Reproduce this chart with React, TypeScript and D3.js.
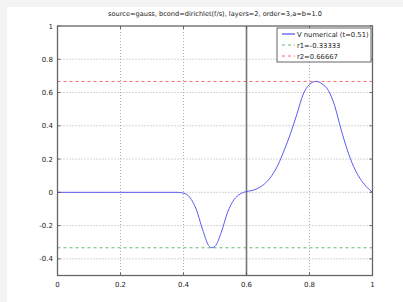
import React from "react";
import * as d3 from "d3";

const titleText = "source=gauss, bcond=dirichlet(f/s), layers=2, order=3,a=b=1.0";
const xTicks = [0, 0.2, 0.4, 0.6, 0.8, 1];
const xTickLabels = ["0", "0.2", "0.4", "0.6", "0.8", "1"];
const yTicks = [-0.4, -0.2, 0, 0.2, 0.4, 0.6, 0.8, 1];
const yTickLabels = ["-0.4", "-0.2", "0", "0.2", "0.4", "0.6", "0.8", "1"];

const vX = [0, 0.2, 0.36, 0.38, 0.40, 0.42, 0.44, 0.46, 0.48, 0.49, 0.50, 0.52, 0.54, 0.56, 0.58, 0.60, 0.62, 0.64, 0.66, 0.68, 0.70, 0.72, 0.74, 0.76, 0.78, 0.80, 0.82, 0.84, 0.86, 0.88, 0.90, 0.92, 0.94, 0.96, 0.98, 1.0];
const vY = [0, 0, 0, 0, -0.005, -0.03, -0.10, -0.22, -0.32, -0.333, -0.325, -0.24, -0.12, -0.045, -0.01, 0.005, 0.012, 0.028, 0.055, 0.10, 0.165, 0.255, 0.355, 0.47, 0.59, 0.648, 0.667, 0.652, 0.612, 0.52, 0.38, 0.255, 0.155, 0.085, 0.035, 0];

const r1 = -0.33333;
const r2 = 0.66667;
const interfaceX = 0.6;
const legendLabels = ["V numerical (t=0.51)", "r1=-0.33333", "r2=0.66667"];

const W = 403, H = 302;
const L = 57.5, R = 372.5, T = 26, B = 275.5;
const FONT = "DejaVu Sans, sans-serif";

export default function App() {
  const x = d3.scaleLinear().domain([0, 1]).range([L, R]);
  const y = d3.scaleLinear().domain([-0.5, 1]).range([B, T]);
  const line = d3
    .line<number>()
    .x((_, i) => x(vX[i]))
    .y((d) => y(d))
    .curve(d3.curveMonotoneX);

  const legendColors = ["#5b5bf5", "#66bb66", "#ff6666"];
  const lgX = 277, lgY = 28, lgW = 94, lgH = 34;

  return (
    <svg width={W} height={H} style={{ position: "absolute", left: 0, top: 0 }}>
      <rect x={0} y={0} width={W} height={H} fill="#f3f3f3" />
      <rect x={7} y={7} width={W - 7} height={H - 7} fill="#ffffff" />
      <text x={(L + R) / 2} y={16} textAnchor="middle" fontFamily={FONT} fontSize={6.6} fill="#222">
        {titleText}
      </text>
      {/* grid */}
      {xTicks.filter((t) => t > 0 && t < 1).map((t) => (
        <line key={"gx" + t} x1={x(t)} x2={x(t)} y1={T} y2={B} stroke="#999" strokeWidth={0.8} strokeDasharray="1,2" />
      ))}
      {yTicks.filter((t) => t > -0.5 && t < 1).map((t) => (
        <line key={"gy" + t} x1={L} x2={R} y1={y(t)} y2={y(t)} stroke="#999" strokeWidth={0.8} strokeDasharray="1,2" />
      ))}
      {/* reference lines */}
      <line x1={L} x2={R} y1={y(r1)} y2={y(r1)} stroke={legendColors[1]} strokeWidth={1} strokeDasharray="3,3" />
      <line x1={L} x2={R} y1={y(r2)} y2={y(r2)} stroke={legendColors[2]} strokeWidth={1} strokeDasharray="3,3" />
      <line x1={x(interfaceX)} x2={x(interfaceX)} y1={T} y2={B} stroke="#777" strokeWidth={1.6} />
      <path d={line(vY) || ""} fill="none" stroke={legendColors[0]} strokeWidth={1} />
      {/* ticks */}
      {xTicks.map((t) => (
        <g key={"tx" + t}>
          <line x1={x(t)} x2={x(t)} y1={B} y2={B - 3} stroke="#444" strokeWidth={0.8} />
          <line x1={x(t)} x2={x(t)} y1={T} y2={T + 3} stroke="#444" strokeWidth={0.8} />
        </g>
      ))}
      {yTicks.map((t) => (
        <g key={"ty" + t}>
          <line x1={L} x2={L + 3} y1={y(t)} y2={y(t)} stroke="#444" strokeWidth={0.8} />
          <line x1={R} x2={R - 3} y1={y(t)} y2={y(t)} stroke="#444" strokeWidth={0.8} />
        </g>
      ))}
      <rect x={L} y={T} width={R - L} height={B - T} fill="none" stroke="#666" strokeWidth={1.3} />
      {xTicks.map((t, i) => (
        <text key={"lx" + t} x={x(t)} y={287} textAnchor="middle" fontFamily={FONT} fontSize={7} fill="#222">
          {xTickLabels[i]}
        </text>
      ))}
      {yTicks.map((t, i) => (
        <text key={"ly" + t} x={53} y={y(t) + 2.5} textAnchor="end" fontFamily={FONT} fontSize={7} fill="#222">
          {yTickLabels[i]}
        </text>
      ))}
      {/* legend */}
      <rect x={lgX} y={lgY} width={lgW} height={lgH} fill="#fff" stroke="#555" strokeWidth={0.9} />
      {legendLabels.map((lab, i) => {
        const yy = lgY + 6 + i * 11;
        return (
          <g key={lab}>
            <line x1={lgX + 5} x2={lgX + 18} y1={yy} y2={yy} stroke={legendColors[i]} strokeWidth={i === 0 ? 1.3 : 1} strokeDasharray={i === 0 ? undefined : "3,3"} />
            <text x={lgX + 20} y={yy + 2.5} fontFamily={FONT} fontSize={6.8} fill="#222">
              {lab}
            </text>
          </g>
        );
      })}
    </svg>
  );
}
